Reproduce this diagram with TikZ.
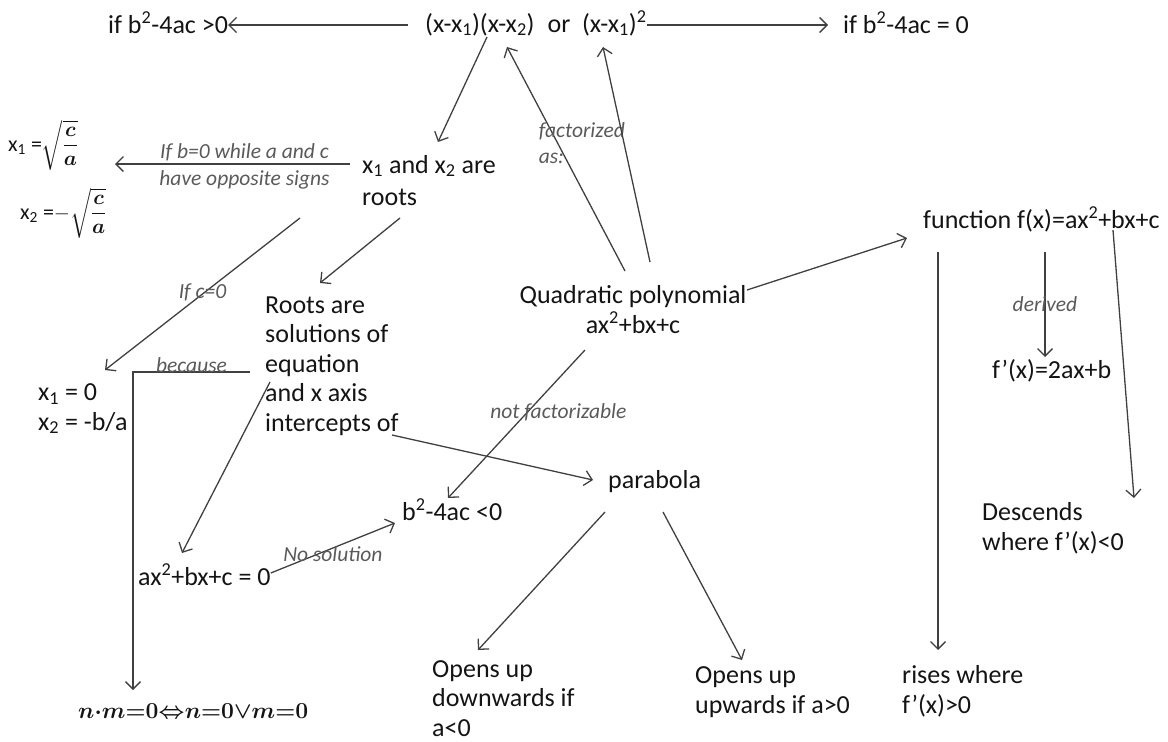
\documentclass[tikz,border=0pt]{standalone}
\usepackage{amsmath}
\usepackage{graphicx}
\usepackage{fontspec}
\setmainfont{Carlito}
\usetikzlibrary{arrows.meta,calc}
\definecolor{linegray}{HTML}{404040}
\definecolor{labelgray}{HTML}{5A5A5A}
\definecolor{txtblack}{HTML}{141414}
\tikzset{
  txt/.style={inner sep=0pt, font=\fontsize{26}{29.5}\selectfont, text=txtblack, align=left},
  sqtxt/.style={inner sep=0pt, font=\fontsize{22}{24}\selectfont, text=txtblack},
  lbl/.style={inner sep=0pt, font=\fontsize{21.5}{26}\selectfont\itshape, text=labelgray, align=left},
  conn/.style={draw=linegray, line width=1.3pt, -{Straight Barb[length=7.5pt,width=15pt,line width=1.3pt]}},
}
\begin{document}
\begin{tikzpicture}[x=1pt,y=-1pt]
\useasboundingbox (0,0) rectangle (1168,742);
% nodes (base anchor = baseline of the last line)
\node[txt,anchor=base west] (gt0) at (108,33) {if b\textsuperscript{2}-4ac >0};
\node[txt,anchor=base west] (fact) at (425,32) {(x-x\textsubscript{1})(x-x\textsubscript{2})\hspace{0.5em}or\hspace{0.45em}(x-x\textsubscript{1})\textsuperscript{2}};
\node[txt,anchor=base west] (eq0) at (843,33) {if b\textsuperscript{2}-4ac = 0};
\node[txt,anchor=base west] (roots) at (362,205) {x\textsubscript{1} and x\textsubscript{2} are\\[2.5pt]roots};
\node[sqtxt,anchor=base west] (sq1) at (8,151) {x\textsubscript{1} =$\sqrt{\dfrac{\boldsymbol{c}}{\boldsymbol{a}}}$};
\node[sqtxt,anchor=base west] (sq2) at (20,219) {x\textsubscript{2} =$-\sqrt{\dfrac{\boldsymbol{c}}{\boldsymbol{a}}}$};
\node[txt,anchor=base west] (sol) at (265,431) {Roots are\\solutions of\\equation\\and x axis\\intercepts of};
\node[txt,anchor=base west] (x0) at (38,430) {x\textsubscript{1} = 0\\x\textsubscript{2} = -b/a};
\node[txt,anchor=base west] (eqn) at (138,585) {ax\textsuperscript{2}+bx+c = 0};
\node[txt,anchor=base west] (lt0) at (402,520) {b\textsuperscript{2}-4ac <0};
\node[txt,anchor=base,align=center] (quad) at (633,333) {Quadratic polynomial\\ax\textsuperscript{2}+bx+c};
\node[txt,anchor=base west] (parab) at (608,488) {parabola};
\node[txt,anchor=base west] (func) at (923,228) {function f(x)=ax\textsuperscript{2}+bx+c};
\node[txt,anchor=base west] (fpr) at (992,378) {f’(x)=2ax+b};
\node[txt,anchor=base west] (desc) at (982,550) {Descends\\where f’(x)<0};
\node[txt,anchor=base west] (rises) at (902,713) {rises where\\f’(x)>0};
\node[txt,anchor=base west] (up) at (695,713) {Opens up\\upwards if a>0};
\node[txt,anchor=base west] (down) at (432,736) {Opens up\\downwards if\\a<0};
\node[inner sep=0pt,anchor=base west,font=\fontsize{20.74}{24}\selectfont,text=txtblack] (nm) at (78,718) {\resizebox{230pt}{!}{$\boldsymbol{n{\cdot}m{=}0{\Leftrightarrow}n{=}0{\vee}m{=}0}$}};
% connectors
\draw[conn] ($(fact.base west)+(-17,-7)$) -- ($(gt0.base east)+(0,-8)$);
\draw[conn] ($(fact.base east)+(0,-7)$) -- ($(eq0.base west)+(-15,-8)$);
\draw[conn] ($(fact.base west)+(62,5)$) -- ($(roots.base west)+(76,-63)$);
\draw[conn] ($(quad.base)+(-8,-62)$) -- node[lbl,pos=0.482,anchor=base west,xshift=-30pt] {factorized\\as:} ($(fact.base west)+(82,15)$);
\draw[conn] ($(quad.base)+(17,-71)$) -- ($(fact.base west)+(178,15)$);
\draw[conn] ($(roots.base west)+(-12,-41)$) --
  node[lbl,pos=0.5,anchor=base,yshift=6pt,xshift=12pt] {If b=0 while a and c}
  node[lbl,pos=0.5,anchor=base,yshift=-21pt,xshift=12pt] {have opposite signs}
  ($(sq1.base west)+(107,13)$);
\draw[conn] ($(roots.base west)+(-62,13)$) -- node[lbl,pos=0.5,anchor=center,yshift=2pt] {If c=0} ($(x0.base west)+(67,-60)$);
\draw[conn] ($(roots.base west)+(38,13)$) -- ($(sol.base west)+(55,-148)$);
\draw[conn] ($(sol.base west)+(-15,-59)$) -| node[lbl,pos=0.25,anchor=base] {because} ($(nm.base west)+(55,-28)$);
\draw[conn] ($(sol.base west)+(5,-49)$) -- ($(eqn.base west)+(44,-32)$);
\draw[conn] ($(eqn.base east)+(0,-12)$) -- node[lbl,pos=0.5,anchor=center,yshift=-6pt] {No solution} ($(lt0.base west)+(-7,3)$);
\draw[conn] ($(quad.base)+(-48,17)$) -- node[lbl,pos=0.426,anchor=base west,xshift=-37pt,yshift=-5pt] {not factorizable} ($(lt0.base west)+(46,-22)$);
\draw[conn] ($(sol.base west)+(127,4)$) -- ($(parab.base west)+(-15,-8)$);
\draw[conn] ($(quad.base)+(114,-43)$) -- ($(func.base west)+(-16,10)$);
\draw[conn] ($(func.base west)+(122,24)$) -- node[lbl,pos=0.5,anchor=center] {derived} ($(fpr.base west)+(53,-21)$);
\draw[conn] ($(func.base west)+(15,24)$) -- ($(rises.base west)+(36,-63)$);
\draw[conn] ($(func.base west)+(190,2)$) -- ($(desc.base west)+(152,-52)$);
\draw[conn] ($(parab.base west)+(-3,24)$) -- ($(down.base west)+(46,-86)$);
\draw[conn] ($(parab.base west)+(55,24)$) -- ($(up.base west)+(47,-53)$);
\end{tikzpicture}
\end{document}
